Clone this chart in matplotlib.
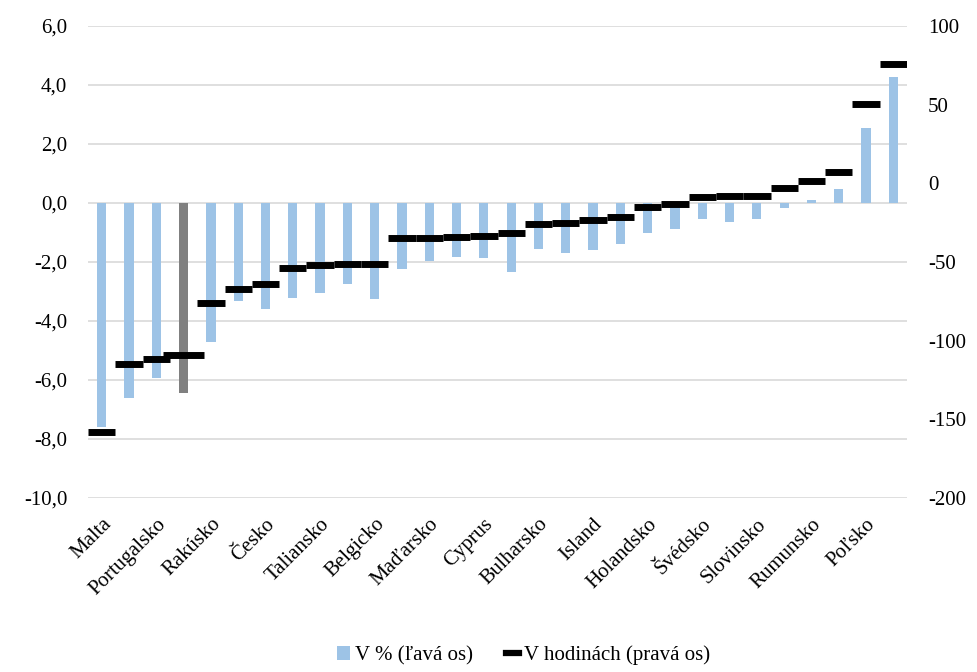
import matplotlib
matplotlib.use("Agg")
import matplotlib.pyplot as plt
from matplotlib.lines import Line2D
from matplotlib.patches import Patch
import numpy as np

# Categories sorted by change in hours; only every other label is printed
countries = ["Malta", "Grécko", "Portugalsko", "Slovensko", "Rakúsko", "Španielsko",
             "Česko", "Francúzsko", "Taliansko", "Nemecko", "Belgicko", "Fínsko",
             "Maďarsko", "Dánsko", "Cyprus", "Estónsko", "Bulharsko", "Lotyšsko",
             "Island", "Litva", "Holandsko", "Luxembursko", "Švédsko", "Írsko",
             "Slovinsko", "Chorvátsko", "Rumunsko", "Nórsko", "Poľsko", "Švajčiarsko"]
pct_change = [-7.58, -6.60, -5.92, -6.45, -4.70, -3.32, -3.59, -3.21, -3.04, -2.75,
              -3.25, -2.25, -1.96, -1.84, -1.85, -2.35, -1.57, -1.71, -1.59, -1.40,
              -1.03, -0.87, -0.55, -0.63, -0.53, -0.16, 0.09, 0.47, 2.53, 4.26]
hours_change = [-157.9, -114.8, -111.9, -109.1, -75.9, -67.0, -64.0, -54.0, -52.1, -51.5,
                -51.3, -34.8, -34.5, -34.0, -33.5, -31.8, -26.0, -25.4, -23.5, -21.6,
                -14.8, -13.3, -8.5, -8.3, -8.1, -2.8, 1.7, 7.0, 50.6, 76.0]
highlight = "Slovensko"

left_ticks = [6, 4, 2, 0, -2, -4, -6, -8, -10]
right_ticks = [100, 50, 0, -50, -100, -150, -200]

FONT = "Liberation Serif"
FS = 15
plt.rcParams["font.family"] = [FONT, "DejaVu Serif"]

fig = plt.figure(figsize=(9.78, 6.72), dpi=100)
ax = fig.add_axes([0.090, 0.2589, 0.8374, 0.7024])
ax2 = ax.twinx()

x = np.arange(len(countries))
bar_colors = ["#808080" if c == highlight else "#9DC3E6" for c in countries]
ax.bar(x, pct_change, width=0.34, color=bar_colors, edgecolor="none", zorder=2)

ax.set_ylim(-10, 6)
ax.set_yticks(left_ticks)
ax.set_yticklabels([f"{t:.1f}".replace(".", ",") for t in left_ticks])
ax.set_xlim(-0.5, len(countries) - 0.5)
ax.set_xticks(x[::2])
ax.set_xticklabels(countries[::2], rotation=45, ha="right", rotation_mode="anchor")
ax.grid(axis="y", color="#D9D9D9", linewidth=1.2, zorder=0)
ax.set_axisbelow(True)

# Hours as horizontal dashes spanning each category
for xi, h, c in zip(x, hours_change, countries):
    half = 0.75 if c == highlight else 0.5
    ax2.hlines(h, xi - half, xi + half, colors="black", linewidth=5.0, zorder=3)
ax2.set_ylim(-200, 100)
ax2.set_yticks(right_ticks)
ax2.set_yticklabels([str(t) for t in right_ticks])

for a in (ax, ax2):
    for s in a.spines.values():
        s.set_visible(False)
    a.tick_params(length=0, labelsize=FS, colors="black")
ax.tick_params(axis="y", pad=15)
ax2.tick_params(axis="y", pad=15)
ax.tick_params(axis="x", pad=12)

handles = [Patch(facecolor="#9DC3E6", edgecolor="none"),
           Line2D([0], [0], color="black", linewidth=4.5)]
fig.legend(handles, ["V % (ľavá os)", "V hodinách (pravá os)"],
           loc="center", bbox_to_anchor=(0.535, 0.025), ncol=2, frameon=False,
           fontsize=FS, handlelength=0.65, handleheight=0.65, handletextpad=0.2,
           columnspacing=1.6)

fig.savefig("out.png", dpi=100)
